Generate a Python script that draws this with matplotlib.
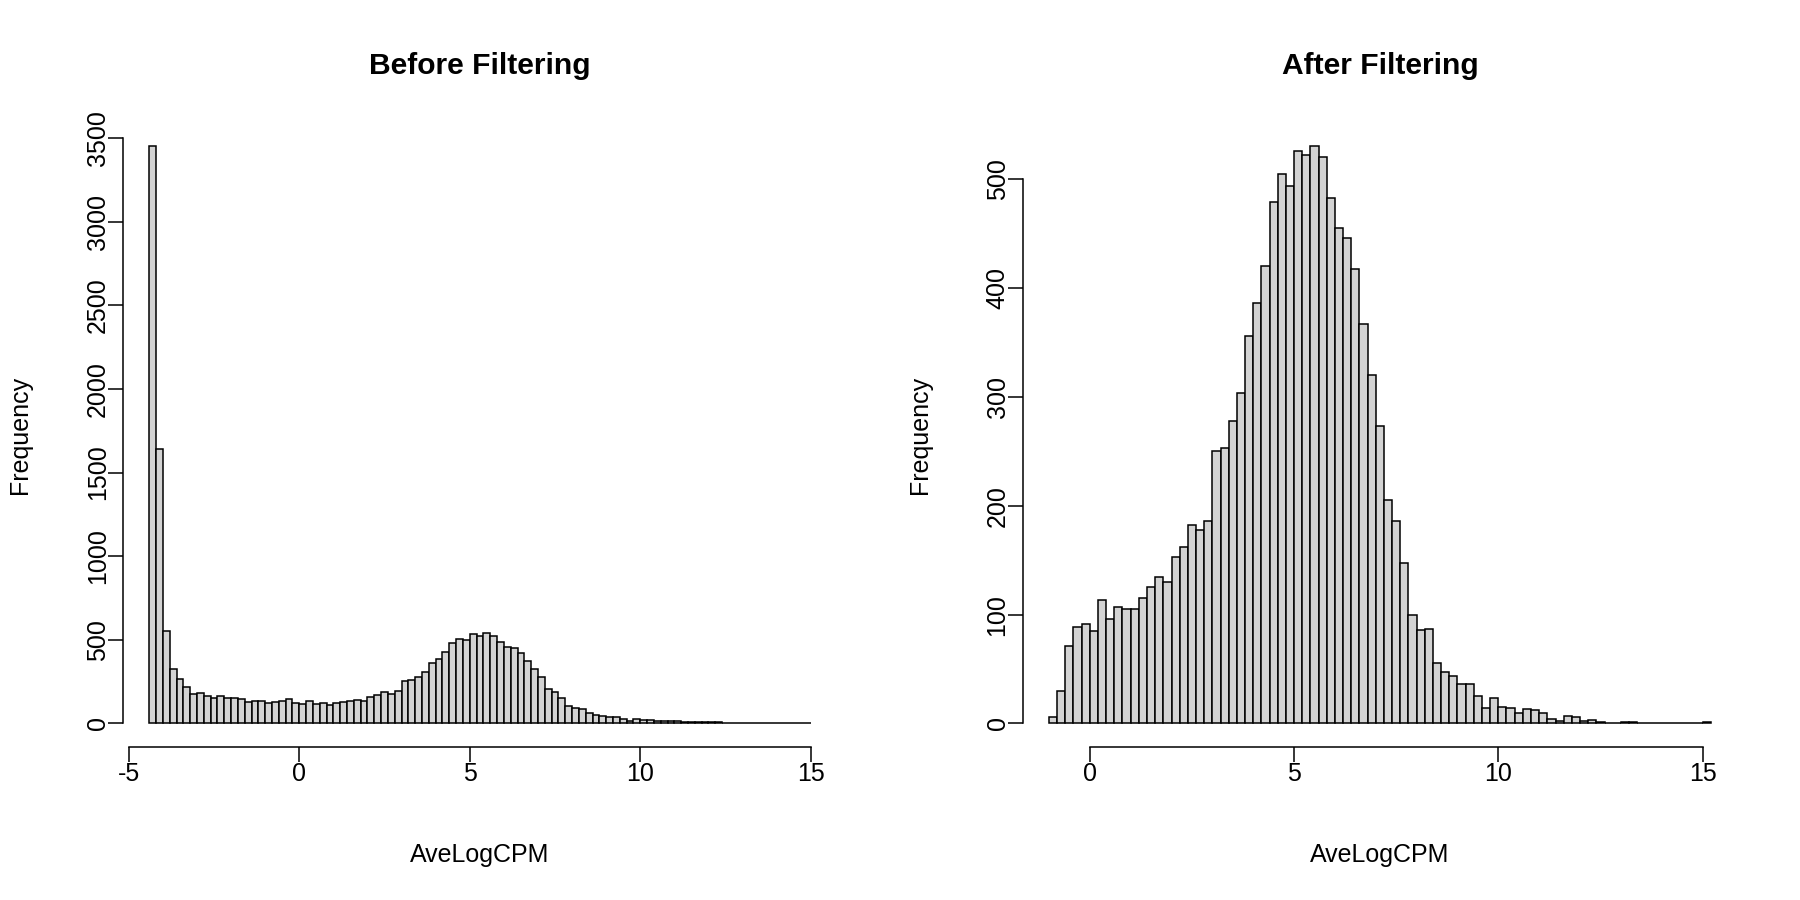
import numpy as np
import matplotlib.pyplot as plt

plt.rcParams['font.family'] = ['Liberation Sans', 'DejaVu Sans']
plt.rcParams['axes.unicode_minus'] = False

# histogram counts (bins 0.2 wide)
before_range = (-4.4, 15.0)
before_counts = [3455, 1638, 552, 328, 268, 216, 174, 184, 166, 154,
                 164, 152, 150, 144, 130, 136, 132, 122, 130, 134,
                 148, 124, 116, 134, 114, 124, 110, 120, 126, 132,
                 142, 136, 158, 168, 188, 178, 194, 254, 260, 280,
                 310, 362, 388, 426, 484, 506, 498, 534, 524, 538,
                 524, 488, 460, 450, 420, 372, 324, 278, 208, 188,
                 152, 104, 92, 88, 60, 52, 46, 40, 40, 26,
                 16, 26, 20, 18, 14, 16, 12, 14, 8, 6,
                 10, 8, 6, 8, 4, 4, 2, 2, 4, 2,
                 2, 2, 2, 2, 1, 1, 2]

after_range = (-1.0, 15.2)
after_counts = [6, 30, 71, 89, 91, 85, 113, 96, 107, 105,
                105, 115, 125, 135, 130, 153, 162, 182, 178, 186,
                250, 253, 278, 304, 356, 386, 420, 479, 505, 494,
                526, 522, 531, 520, 483, 455, 446, 418, 367, 320,
                273, 205, 186, 147, 100, 86, 87, 56, 47, 44,
                36, 36, 25, 14, 23, 15, 14, 10, 13, 12,
                10, 4, 2, 7, 6, 2, 3, 1, 0, 0,
                1, 1, 0, 0, 0, 0, 0, 0, 0, 0, 1]

titles = ['Before Filtering', 'After Filtering']
x_label = 'AveLogCPM'
y_label = 'Frequency'
x_ticks = [[-5, 0, 5, 10, 15], [0, 5, 10, 15]]
y_ticks = [[0, 500, 1000, 1500, 2000, 2500, 3000, 3500],
           [0, 100, 200, 300, 400, 500]]

W, H = 1800, 900
fig = plt.figure(figsize=(18, 9), dpi=100)


def px_axes(x0, x1, y0, y1):
    # pixel box (from top-left) -> figure fraction
    return fig.add_axes([x0 / W, 1 - y1 / H, (x1 - x0) / W, (y1 - y0) / H])


def draw_hist(ax, rng, counts, title, xt, yt):
    edges = np.linspace(rng[0], rng[1], len(counts) + 1)
    ax.bar(edges[:-1], counts, width=np.diff(edges), align='edge',
           color='#d3d3d3', edgecolor='black', linewidth=1.1)

    # R style 4% padding around the data range
    span = rng[1] - rng[0]
    ax.set_xlim(rng[0] - 0.04 * span, rng[1] + 0.04 * span)
    top = max(counts)
    ax.set_ylim(-0.04 * top, 1.04 * top)

    for s in ['top', 'right']:
        ax.spines[s].set_visible(False)
    for s in ['left', 'bottom']:
        ax.spines[s].set_linewidth(1.1)
    ax.spines['bottom'].set_bounds(xt[0], xt[-1])
    ax.spines['left'].set_bounds(yt[0], yt[-1])

    ax.set_xticks(xt)
    ax.set_yticks(yt)
    ax.tick_params(direction='out', length=10.8, width=1.1, labelsize=18)
    ax.tick_params(axis='x', pad=0)
    ax.tick_params(axis='y', labelrotation=90, pad=-1.5)
    for lab in ax.get_yticklabels():
        lab.set_va('center')

    ax.set_title(title, fontsize=21.6, fontweight='bold', pad=35)
    ax.set_xlabel(x_label, fontsize=18)
    ax.xaxis.set_label_coords(0.5, -0.154)
    ax.set_ylabel(y_label, fontsize=18)
    ax.yaxis.set_label_coords(-0.127, 0.5)


ax1 = px_axes(122.8, 837.2, 122.4, 746.6)
ax2 = px_axes(1022.5, 1737.2, 122.4, 746.6)
draw_hist(ax1, before_range, before_counts, titles[0], x_ticks[0], y_ticks[0])
draw_hist(ax2, after_range, after_counts, titles[1], x_ticks[1], y_ticks[1])

fig.savefig('out.png', dpi=100)
